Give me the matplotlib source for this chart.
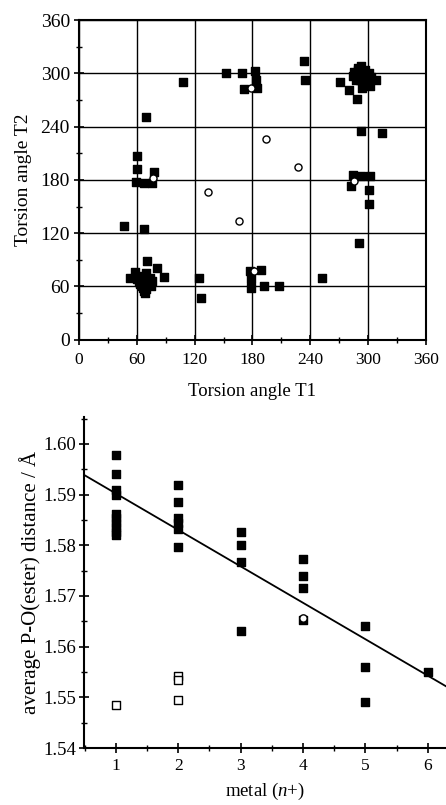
import numpy as np
import matplotlib.pyplot as plt
from matplotlib.ticker import MultipleLocator

plt.rcParams['font.family'] = ['Liberation Serif', 'DejaVu Serif']
plt.rcParams['mathtext.fontset'] = 'custom'
plt.rcParams['mathtext.rm'] = 'Liberation Serif'
plt.rcParams['mathtext.it'] = 'Liberation Serif:italic'

# --- torsion angles (filled squares) ---
t1_sq = [70, 108, 153, 169, 183, 171, 184, 185, 233, 235,
         271, 280, 289, 294, 302, 308, 293, 314,
         286, 290, 294, 298, 288, 292, 296, 300, 293, 289, 295, 303, 284, 291, 297, 299, 287,
         290, 293, 296, 285, 301,
         60, 60, 59, 67, 78, 76,
         284, 293, 302, 282, 301, 301, 291,
         47, 68, 71, 81, 88, 53, 58, 69,
         62, 65, 70, 74, 64, 68, 72, 66, 70, 75, 60, 63, 67, 71, 73, 69, 65, 76, 62, 68,
         125, 127, 177, 189, 178, 178, 192, 208, 252]
t2_sq = [251, 290, 300, 300, 303, 282, 292, 284, 314, 292,
         290, 281, 271, 283, 286, 292, 235, 233,
         300, 304, 301, 296, 295, 292, 300, 298, 308, 298, 295, 296, 297, 302, 304, 292, 292,
         306, 297, 293, 302, 300,
         207, 192, 178, 177, 189, 177,
         185, 184, 184, 173, 169, 153, 109,
         128, 125, 89, 81, 71, 69, 76, 53,
         70, 72, 75, 70, 66, 62, 64, 58, 57, 60, 68, 63, 68, 68, 66, 60, 60, 66, 65, 55,
         69, 47, 77, 79, 58, 68, 60, 60, 70]
# --- torsion angles (open circles) ---
t1_circ = [178, 194, 227, 134, 77, 285, 166, 182]
t2_circ = [284, 226, 194, 166, 182, 179, 134, 77]

# --- P-O(ester) distances ---
metal_fill = [1, 1, 1, 1, 1, 1, 1, 1, 1, 1,
              2, 2, 2, 2, 2, 2,
              3, 3, 3, 3,
              4, 4, 4, 4,
              5, 5, 5, 6]
dist_fill = [1.5978, 1.5940, 1.5909, 1.5899, 1.5862, 1.5853, 1.5844, 1.5835, 1.5826, 1.5820,
             1.5919, 1.5886, 1.5853, 1.5844, 1.5832, 1.5796,
             1.5826, 1.5800, 1.5766, 1.5631,
             1.5772, 1.5740, 1.5715, 1.5652,
             1.5641, 1.5560, 1.5491, 1.5550]
metal_open_sq = [1, 2, 2, 2]
dist_open_sq = [1.5484, 1.5542, 1.5534, 1.5495]
metal_open_circ = [4]
dist_open_circ = [1.5657]
fit_intercept = 1.5974
fit_slope = -0.00719

fig = plt.figure(figsize=(4.46, 8.05), dpi=100)

# top panel
ax1 = fig.add_axes([0.177, 0.578, 0.778, 0.397])
ax1.scatter(t1_sq, t2_sq, marker='s', s=28, color='black', zorder=3)
ax1.scatter(t1_circ, t2_circ, marker='o', s=26, facecolor='white', edgecolor='black', linewidth=1.0, zorder=4)
ax1.set_xlim(0, 360)
ax1.set_ylim(0, 360)
ax1.xaxis.set_major_locator(MultipleLocator(60))
ax1.yaxis.set_major_locator(MultipleLocator(60))
ax1.xaxis.set_minor_locator(MultipleLocator(30))
ax1.yaxis.set_minor_locator(MultipleLocator(30))
ax1.grid(True, which='major', color='black', linewidth=1.0)
ax1.tick_params(which='major', direction='inout', length=7, width=1.2)
ax1.tick_params(which='minor', direction='inout', length=4, width=1)
ax1.tick_params(axis='x', labelsize=12.5, pad=5)
ax1.tick_params(axis='y', labelsize=14, pad=3)
for sp in ax1.spines.values():
    sp.set_linewidth(1.5)
ax1.set_xlabel('Torsion angle T1', fontsize=13.5, labelpad=11)
ax1.set_ylabel('Torsion angle T2', fontsize=14, labelpad=6)

# bottom panel
ax2 = fig.add_axes([0.188, 0.0708, 0.812, 0.4112])
ax2.scatter(metal_fill, dist_fill, marker='s', s=28, color='black', zorder=3)
ax2.scatter(metal_open_sq, dist_open_sq, marker='s', s=30, facecolor='white', edgecolor='black', linewidth=1.0, zorder=3)
ax2.scatter(metal_open_circ, dist_open_circ, marker='o', s=28, facecolor='white', edgecolor='black', linewidth=1.0, zorder=4)
xl = np.array([0.487, 6.3])
ax2.plot(xl, fit_intercept + fit_slope * xl, color='black', linewidth=1.3, zorder=2)
ax2.set_xlim(0.487, 6.29)
ax2.set_ylim(1.54, 1.6053)
ax2.xaxis.set_major_locator(MultipleLocator(1))
ax2.xaxis.set_minor_locator(MultipleLocator(0.5))
ax2.yaxis.set_minor_locator(MultipleLocator(0.005))
ax2.set_yticks([1.54, 1.55, 1.56, 1.57, 1.58, 1.59, 1.60])
ax2.set_yticklabels(['1.54', '1.55', '1.56', '1.57', '1.58', '1.59', '1.60'])
ax2.tick_params(which='major', direction='inout', length=7, width=1.2)
ax2.tick_params(which='minor', direction='inout', length=4, width=1)
ax2.tick_params(axis='x', labelsize=12.5, pad=4)
ax2.tick_params(axis='y', labelsize=13.5, pad=2)
ax2.spines['top'].set_visible(False)
ax2.spines['right'].set_visible(False)
ax2.spines['left'].set_linewidth(1.5)
ax2.spines['bottom'].set_linewidth(1.5)
ax2.set_xlabel('metal ($n$+)', fontsize=13.5, labelpad=5)
ax2.set_ylabel('average P-O(ester) distance / Å', fontsize=15, labelpad=2)

fig.savefig('out.png', dpi=100)
